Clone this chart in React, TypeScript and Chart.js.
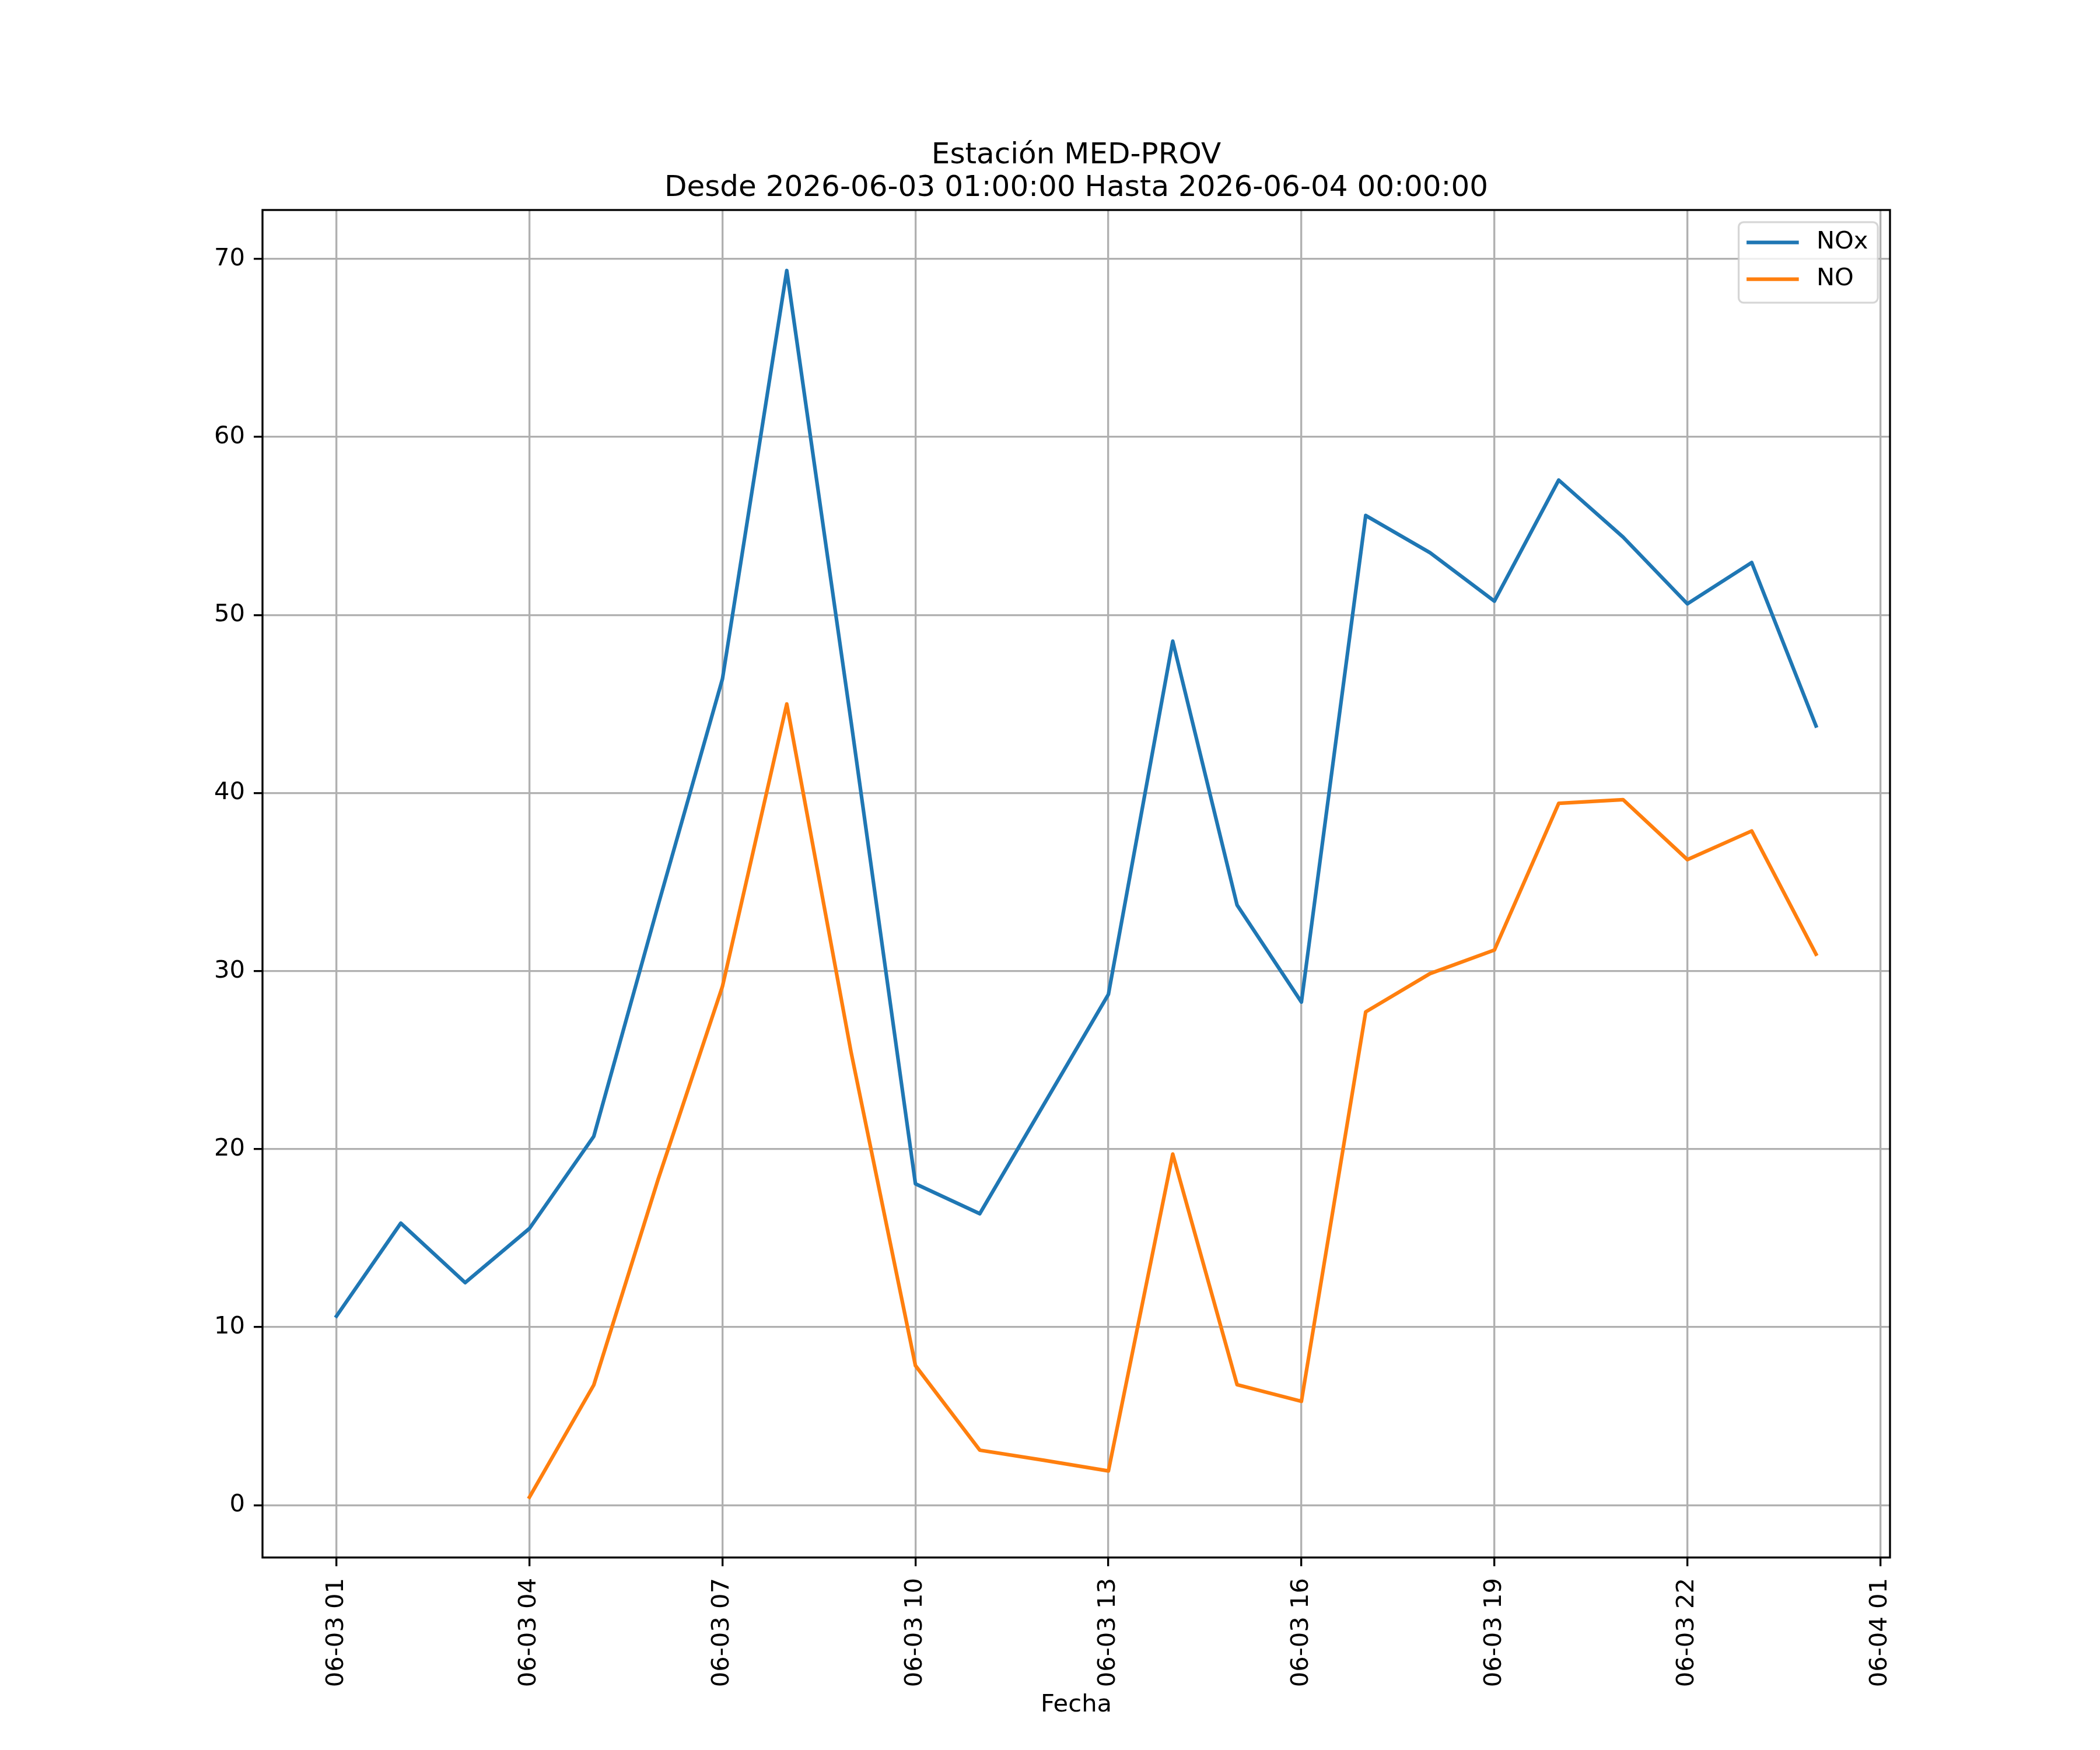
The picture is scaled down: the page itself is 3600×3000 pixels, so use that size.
import { useEffect, useRef } from "react";
import { Chart, registerables } from "chart.js";

Chart.register(...registerables);

// hours after 2026-06-03 00:00 (24 = 2026-06-04 00:00)
const hours = [1, 2, 3, 4, 5, 6, 7, 8, 9, 10, 11, 12, 13, 14, 15, 16, 17, 18, 19, 20, 21, 22, 23, 24];
const noxValues = [
    10.62, 15.84, 12.5, 15.54, 20.72, 33.7, 46.41, 69.35, 44.0, 18.05, 16.37, 22.53,
    28.69, 48.53, 33.71, 28.26, 55.59, 53.5, 50.78, 57.58, 54.38, 50.63, 52.95, 43.77,
];
const noValues = [
    null, null, null, 0.45, 6.75, 18.3, 29.14, 45.0, 25.44, 7.84, 3.09, 2.52,
    1.92, 19.72, 6.77, 5.83, 27.71, 29.86, 31.18, 39.42, 39.63, 36.26, 37.87, 30.95,
];
const tickHours = [1, 4, 7, 10, 13, 16, 19, 22, 25];
const tickLabels = ["06-03 01", "06-03 04", "06-03 07", "06-03 10", "06-03 13", "06-03 16", "06-03 19", "06-03 22", "06-04 01"];
const yTicks = [0, 10, 20, 30, 40, 50, 60, 70];
const titleLines = ["Estación MED-PROV", "Desde 2026-06-03 01:00:00 Hasta 2026-06-04 00:00:00"];

const FAMILY = "'DejaVu Sans', sans-serif";
const SMALL = 41.67;
const BIG = 50;

// black frame round the plot area, like matplotlib spines
const framePlugin = {
    id: "frame",
    afterDatasetsDraw(chart: any) {
        const { ctx, chartArea: a } = chart;
        ctx.save();
        ctx.strokeStyle = "#000";
        ctx.lineWidth = 3.33;
        ctx.strokeRect(a.left, a.top, a.right - a.left, a.bottom - a.top);
        ctx.restore();
    },
};

// legend box inside the upper right corner
const boxLegendPlugin = {
    id: "boxLegend",
    afterDraw(chart: any) {
        const { ctx, chartArea: a } = chart;
        const em = SMALL;
        ctx.save();
        ctx.font = `${em}px ${FAMILY}`;
        const sets = chart.data.datasets;
        const textW = Math.max(...sets.map((d: any) => ctx.measureText(d.label).width));
        const pad = 0.4 * em;
        const handle = 2 * em;
        const gap = 0.8 * em;
        const w = pad + handle + gap + textW + pad;
        const rowH = 63;
        const h = 34.7 + rowH * (sets.length - 1) + 40.3;
        const right = a.right - 0.5 * em;
        const left = right - w;
        const top = a.top + 0.5 * em;
        ctx.beginPath();
        ctx.roundRect(left, top, w, h, 0.2 * em);
        ctx.fillStyle = "rgba(255,255,255,0.8)";
        ctx.fill();
        ctx.strokeStyle = "rgba(204,204,204,0.8)";
        ctx.lineWidth = 3.33;
        ctx.stroke();
        sets.forEach((d: any, i: number) => {
            const y = top + 34.7 + i * rowH;
            ctx.beginPath();
            ctx.moveTo(left + pad, y);
            ctx.lineTo(left + pad + handle, y);
            ctx.strokeStyle = d.borderColor;
            ctx.lineWidth = d.borderWidth;
            ctx.lineCap = "square";
            ctx.stroke();
            ctx.fillStyle = "#000";
            ctx.textAlign = "left";
            ctx.textBaseline = "middle";
            ctx.fillText(d.label, left + pad + handle + gap, y);
        });
        ctx.restore();
    },
};

export default function App() {
    const chartRef = useRef<HTMLCanvasElement | null>(null);
    useEffect(() => {
        document.body.style.margin = "0";
        const context = chartRef.current?.getContext("2d");
        if (!context) return;
        const tickFont = { family: FAMILY, size: SMALL };
        const grid = { color: "#b0b0b0", lineWidth: 3.33, tickLength: 15, tickColor: "#000", tickWidth: 3.33 };

        const chartData = {
            datasets: [
                {
                    label: "NOx",
                    data: hours.map((h, i) => ({ x: h, y: noxValues[i] })),
                    borderColor: "#1f77b4",
                    backgroundColor: "#1f77b4",
                    order: 1,
                },
                {
                    label: "NO",
                    data: hours.map((h, i) => ({ x: h, y: noValues[i] })),
                    borderColor: "#ff7f0e",
                    backgroundColor: "#ff7f0e",
                    order: 0,
                },
            ].map(d => ({
                ...d,
                borderWidth: 6.25,
                pointRadius: 0,
                tension: 0,
                fill: false,
                spanGaps: false,
                borderJoinStyle: "round",
                borderCapStyle: "square",
            })),
        };

        const config: any = {
            type: "line",
            data: chartData,
            options: {
                responsive: false,
                animation: false,
                devicePixelRatio: 1,
                layout: { padding: { left: 90, right: 0, top: 0, bottom: 0 } },
                plugins: {
                    legend: { display: false },
                    tooltip: { enabled: false },
                    title: {
                        display: true,
                        text: titleLines,
                        color: "#000",
                        font: { family: FAMILY, size: BIG, weight: "normal", lineHeight: 1.13 },
                        padding: { top: 238.5, bottom: 8.5 },
                    },
                },
                scales: {
                    x: {
                        type: "linear",
                        min: -0.15,
                        max: 25.15,
                        afterBuildTicks: (s: any) => { s.ticks = tickHours.map(v => ({ value: v })); },
                        afterFit: (s: any) => { s.height = 330; },
                        ticks: {
                            callback: (_v: any, i: number) => tickLabels[i],
                            minRotation: 90,
                            maxRotation: 90,
                            autoSkip: false,
                            color: "#000",
                            font: tickFont,
                            padding: 20,
                        },
                        grid,
                        border: { display: false },
                        title: {
                            display: true,
                            text: "Fecha",
                            color: "#000",
                            font: tickFont,
                            padding: { top: 0, bottom: 52 },
                        },
                    },
                    y: {
                        type: "linear",
                        min: -2.94,
                        max: 72.75,
                        afterBuildTicks: (s: any) => { s.ticks = yTicks.map(v => ({ value: v })); },
                        afterFit: (s: any) => { s.width = 360; },
                        ticks: { color: "#000", font: tickFont, padding: 15 },
                        grid,
                        border: { display: false },
                    },
                    y2: {
                        type: "linear",
                        position: "right",
                        afterFit: (s: any) => { s.width = 360; },
                        ticks: { display: false },
                        grid: { display: false },
                        border: { display: false },
                    },
                },
            },
            plugins: [framePlugin, boxLegendPlugin],
        };

        const chartInstance = new Chart(context, config);
        return () => {
            chartInstance.destroy();
        };
    }, []);
    return (
        <div style={{ width: 3600, height: 3000 }}>
            <canvas ref={chartRef} width={3600} height={3000} style={{ display: "block" }} />
        </div>
    );
}
